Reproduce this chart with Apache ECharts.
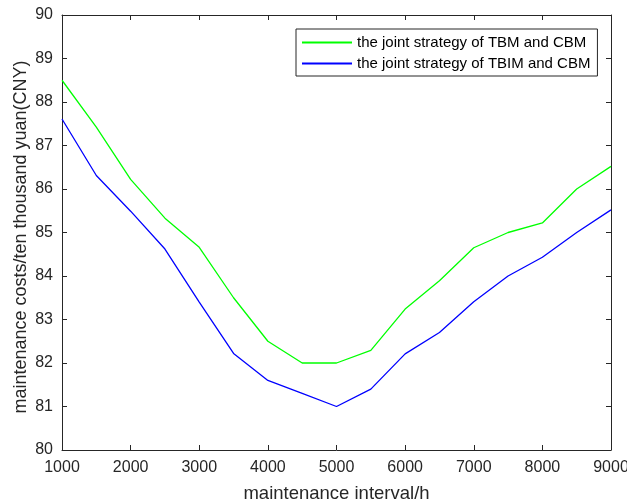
<!DOCTYPE html>
<html>
<head>
<meta charset="utf-8">
<script src="https://cdn.jsdelivr.net/npm/echarts@6/dist/echarts.min.js"></script>
<style>
  html, body { margin: 0; padding: 0; background: #fff; }
  #main { width: 627px; height: 502px; }
</style>
</head>
<body>
<div id="main"></div>
<script>
// maintenance interval (h)
var intervals = [1000, 1500, 2000, 2500, 3000, 3500, 4000, 4500, 5000, 5500, 6000, 6500, 7000, 7500, 8000, 8500, 9000]
// costs, ten thousand yuan
var costTBM = [88.5, 87.42, 86.22, 85.33, 84.66, 83.5, 82.5, 82.0, 82.0, 82.29, 83.24, 83.89, 84.65, 85.0, 85.22, 86.0, 86.52]
var costTBIM = [87.61, 86.31, 85.49, 84.62, 83.4, 82.22, 81.6, 81.3, 81.0, 81.4, 82.21, 82.7, 83.41, 84.0, 84.43, 85.0, 85.52]
var seriesNames = ['the joint strategy of TBM and CBM', 'the joint strategy of TBIM and CBM']

var axisColor = '#262626'
var font = 'Liberation Sans, Arial, sans-serif'

function pairs (xs, ys) {
  return xs.map(function (x, i) { return [x, ys[i]] })
}

var chart = echarts.init(document.getElementById('main'))
chart.setOption({
  animation: false,
  grid: { left: 62, right: 16, top: 15, bottom: 52, outerBoundsMode: 'none', containLabel: false },
  // y axis title, placed by hand like the matlab figure
  graphic: [
    {
      type: 'text',
      x: 21,
      y: 237,
      rotation: Math.PI / 2,
      style: {
        text: 'maintenance costs/ten thousand yuan(CNY)',
        font: '18px ' + font,
        fill: axisColor,
        align: 'center',
        verticalAlign: 'middle'
      }
    }
  ],
  legend: {
    orient: 'vertical',
    left: 296,
    top: 29,
    padding: [6, 7, 5, 5],
    itemGap: 6,
    itemWidth: 50,
    itemHeight: 14,
    itemStyle: { opacity: 0 },
    borderColor: axisColor,
    borderWidth: 1,
    borderRadius: 0,
    backgroundColor: '#fff',
    textStyle: { fontFamily: font, fontSize: 15, color: '#000' },
    data: seriesNames
  },
  xAxis: [
    {
      type: 'value',
      min: 1000,
      max: 9000,
      interval: 1000,
      name: 'maintenance interval/h',
      nameLocation: 'middle',
      nameGap: 34,
      nameTextStyle: { fontFamily: font, fontSize: 18.5, color: axisColor },
      axisLine: { lineStyle: { color: axisColor, width: 1 } },
      axisTick: { inside: true, length: 5, lineStyle: { color: axisColor } },
      axisLabel: {
        fontFamily: font, fontSize: 16, color: axisColor, margin: 10,
        formatter: function (v) { return String(v) }
      },
      splitLine: { show: false }
    },
    {
      type: 'value',
      position: 'top',
      min: 1000,
      max: 9000,
      interval: 1000,
      axisLine: { lineStyle: { color: axisColor, width: 1 } },
      axisTick: { inside: true, length: 5, lineStyle: { color: axisColor } },
      axisLabel: { show: false },
      splitLine: { show: false }
    }
  ],
  yAxis: [
    {
      type: 'value',
      min: 80,
      max: 90,
      interval: 1,
      axisLine: { show: true, lineStyle: { color: axisColor, width: 1 } },
      axisTick: { show: true, inside: true, length: 5, lineStyle: { color: axisColor } },
      axisLabel: { fontFamily: font, fontSize: 16, color: axisColor, margin: 9 },
      splitLine: { show: false }
    },
    {
      type: 'value',
      position: 'right',
      min: 80,
      max: 90,
      interval: 1,
      axisLine: { show: true, lineStyle: { color: axisColor, width: 1 } },
      axisTick: { show: true, inside: true, length: 5, lineStyle: { color: axisColor } },
      axisLabel: { show: false },
      splitLine: { show: false }
    }
  ],
  series: [
    {
      name: seriesNames[0],
      type: 'line',
      symbol: 'none',
      color: '#00ff00',
      lineStyle: { width: 1.3, color: '#00ff00' },
      data: pairs(intervals, costTBM)
    },
    {
      name: seriesNames[1],
      type: 'line',
      symbol: 'none',
      color: '#0000ff',
      lineStyle: { width: 1.3, color: '#0000ff' },
      data: pairs(intervals, costTBIM)
    }
  ]
})
</script>
</body>
</html>
